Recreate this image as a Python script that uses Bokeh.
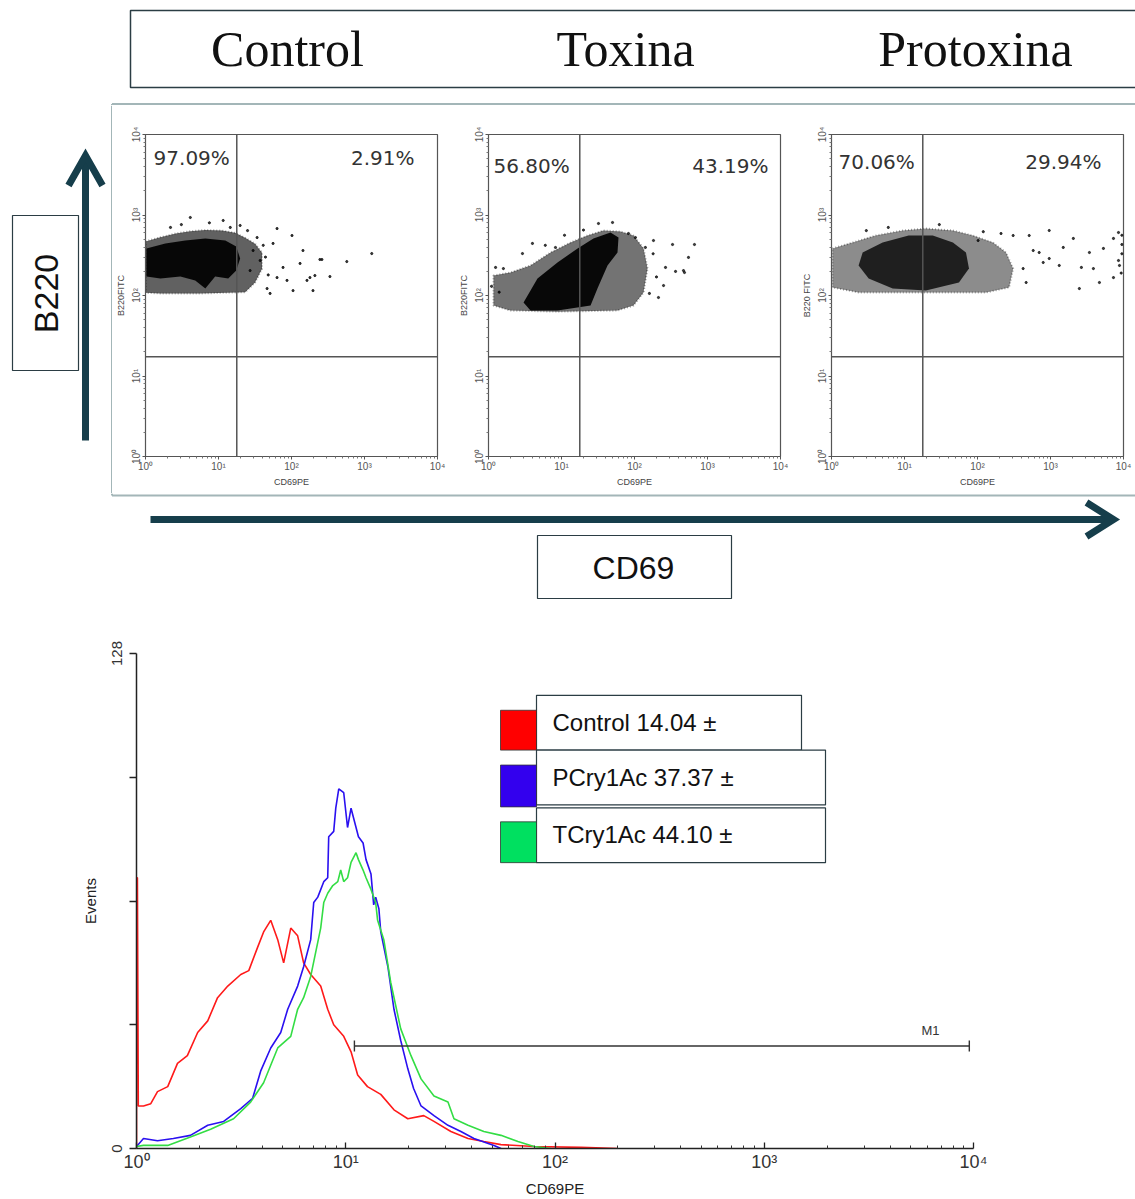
import math
from bokeh.plotting import figure
from bokeh.layouts import column, row
from bokeh.models import Range1d, FixedTicker, CustomJSTickFormatter, Span, Label
from bokeh.core.properties import value
from bokeh.embed import file_html
from bokeh.resources import INLINE

# ---------------- data ----------------
panel_titles = ["Control", "Toxina", "Protoxina"]
pct_left = ["97.09%", "56.80%", "70.06%"]
pct_right = ["2.91%", "43.19%", "29.94%"]
dot_y_labels = ["B220FITC", "B220FITC", "B220 FITC"]
dot_x_label = "CD69PE"
quad_x = 17.8     # CD69 quadrant threshold
quad_y = 17.4     # B220 quadrant threshold

# Control dot plot: dense core / halo outlines and sparse events
ctrl_halo_x = [1.0, 1.6, 2.6, 4.1, 6.6, 11.2, 16.9, 23.2, 31.7, 39.5, 39.5, 31.7, 23.2, 5.6, 1.6, 1.0]
ctrl_halo_y = [470, 530, 590, 630, 650, 640, 600, 520, 440, 340, 215, 145, 110, 106, 106, 108]
ctrl_core_x = [1.03, 1.87, 3.5, 6.6, 12.4, 17.5, 19.8, 17.5, 13.6, 9.0, 6.6, 4.8, 3.0, 1.6, 1.03]
ctrl_core_y = [384, 443, 482, 511, 482, 406, 288, 204, 163, 172, 122, 154, 172, 163, 172]
ctrl_dots_x = [33.8, 63.4, 101.6, 143.6, 245, 572, 1257, 179, 209, 163, 336, 86.8, 63.4, 46.3,
               105, 50.9, 76.6, 37.2, 55.9, 4.11, 11.6, 19.8, 197, 131, 29.8, 27.1, 261,
               2.2, 3.1, 7.5, 14.5, 25.0, 44.0, 48.0, 41.0]
ctrl_dots_y = [525, 679, 556, 362, 280, 264, 332, 167, 177, 154, 172, 154, 167, 122,
               115, 106, 223, 272, 443, 931, 855, 741, 115, 250, 362, 204, 280,
               700, 760, 800, 700, 640, 300, 180, 420]

# Toxina dot plot
tox_halo_x = [1.17, 2.0, 3.76, 7.07, 13.3, 22.7, 37.6, 64.3, 96.9, 133, 151, 133, 96.9, 58.5, 8.81, 2.0, 1.17]
tox_halo_y = [177, 193, 236, 342, 455, 556, 642, 624, 556, 384, 216, 109, 75, 65, 63, 65, 75]
tox_core_x = [3.02, 4.69, 8.81, 16.6, 27.4, 46.9, 60.4, 58.5, 42.7, 31.1, 25.0, 8.81, 3.76]
tox_core_y = [82, 163, 257, 384, 511, 606, 525, 342, 236, 122, 75, 65, 65]
tox_dots_x = [332, 663, 549, 365, 484, 213, 160, 266, 141, 103, 1.25, 2.92, 4.0, 8.27,
              32.1, 50, 82.7, 182, 469, 250, 1.6, 1.1, 1.4, 6.0, 11.0, 20.0, 180, 200]
tox_dots_y = [430, 430, 297, 199, 193, 94.4, 106, 223, 395, 525, 223, 332, 443, 395,
              784, 807, 589, 482, 204, 133, 216, 130, 110, 420, 560, 650, 330, 170]

# Protoxina dot plot
prot_halo_x = [1.03, 1.94, 4.03, 9.46, 19.6, 46.0, 86.7, 163, 246, 308, 271, 131, 19.6, 2.35, 1.03]
prot_halo_y = [384, 455, 556, 642, 679, 642, 556, 455, 342, 216, 126, 109, 109, 109, 126]
prot_core_x = [2.67, 5.02, 11.4, 24.4, 46.0, 69.5, 76.4, 55.7, 19.6, 6.89, 3.23, 2.35]
prot_core_y = [342, 455, 556, 556, 455, 342, 216, 145, 115, 122, 163, 236]
prot_dots_x = [308, 511, 961, 2056, 3413, 5310, 7290, 8540, 8810, 7290, 4680, 3870, 2485,
               1318, 795, 580, 422, 464, 1496, 961, 210, 102, 700, 2650, 8540,
               9500, 9500, 9500, 9300, 3.0, 6.0, 30.0, 120]
prot_dots_y = [556, 556, 642, 511, 342, 384, 511, 606, 236, 167, 145, 216, 122,
               236, 257, 362, 216, 145, 395, 288, 589, 482, 342, 223, 272,
               560, 430, 330, 190, 640, 700, 760, 620]

# Histogram overlay (CD69PE vs Events)
red_x = [1.0, 1.0, 1.01, 1.02, 1.08, 1.17, 1.26, 1.41, 1.57, 1.75, 1.96, 2.19, 2.44, 2.73, 3.15,
         3.44, 3.79, 4.05, 4.38, 4.73, 5.05, 5.46, 5.89, 6.29, 6.80, 7.59, 8.20, 8.76, 9.78,
         10.6, 11.4, 12.7, 14.7, 17.0, 19.8, 23.6, 26.4, 31.8, 38.4, 45.7, 55.2, 79.4, 133, 200]
red_y = [0, 70, 70, 11, 11, 11.6, 14.7, 16, 22, 24, 30, 33, 39, 42, 45,
         46, 52, 56, 59, 54, 48, 57, 55, 48, 45, 42, 36, 32, 29,
         25, 19, 16, 14, 10, 7.7, 8.5, 7, 4.4, 2.6, 1.8, 1.0, 0.5, 0.3, 0]
blue_x = [1.0, 1.08, 1.26, 1.50, 1.81, 2.19, 2.61, 3.15, 3.59, 3.92, 4.38, 4.89, 5.28, 5.89,
          6.29, 6.80, 7.03, 7.35, 7.85, 8.20, 8.29, 8.76, 8.96, 9.26, 9.78, 10.2, 10.6, 11.2,
          11.5, 12.1, 12.5, 13.2, 13.6, 13.9, 14.4, 14.7, 15.9, 17.0, 18.3, 19.8, 21.1, 22.9,
          26.4, 30.8, 35.5, 41.0, 51.1, 55.2]
blue_y = [0.5, 2.6, 2, 2.6, 3.4, 6, 7, 10.3, 13, 20, 26, 30, 36, 42,
          47, 54, 63.6, 65, 69, 70, 80.6, 82, 88, 93, 92, 83, 88, 83,
          80.6, 79, 74.7, 71, 63, 65, 62, 56, 47, 36, 28, 20.6, 15.5, 11,
          8.5, 6, 4.4, 2.6, 0.8, 0]
green_x = [1.0, 1.08, 1.41, 1.81, 2.26, 2.91, 3.51, 4.05, 4.73, 5.46, 5.89, 6.29, 6.80, 7.59,
           7.85, 8.20, 8.67, 9.16, 9.46, 9.78, 10.2, 10.6, 11.2, 11.5, 12.1, 12.5, 13.2, 13.9,
           14.2, 15.2, 16.4, 18.3, 20.5, 22.9, 26.4, 30.8, 32.9, 38.4, 45.7, 55.2, 66.5, 79.4, 95.7]
green_y = [0.5, 0.8, 0.8, 3, 5, 7.7, 12, 17, 26, 29, 36, 39, 44.5, 57,
           63.6, 66, 68, 69, 72, 69, 70, 74, 76.5, 74.7, 72, 70, 67, 63.6,
           59, 54, 43, 31, 24, 18, 13.6, 12, 7.7, 6, 4.4, 3.4, 1.8, 0.5, 0]
legend_labels = ["Control 14.04 \u00b1", "PCry1Ac 37.37 \u00b1", "TCry1Ac 44.10 \u00b1"]
series_colors = ["#ff1a1a", "#2a10f0", "#33dd44"]
legend_swatch_colors = ["#ff0000", "#3300ee", "#00e060"]
m1_range = [11.0, 9550.0]
m1_level = 26.5
hist_y_ticks = [0, 32, 64, 96, 128]
decades = [1, 10, 100, 1000, 10000]

# ---------------- styling helpers ----------------
ARROW = "#163e4b"
OUTER = "#a3b6b8"
BOXLINE = "#2b3d44"
W = 1135

sup_fmt = CustomJSTickFormatter(code="""
const s = ['\u2070','\u00b9','\u00b2','\u00b3','\u2074'];
const e = Math.round(Math.log10(tick));
return '10' + s[e];
""")
minor = [m * d for d in decades[:-1] for m in range(2, 10)]


def deco(w, h):
    f = figure(width=w, height=h, x_range=Range1d(0, w), y_range=Range1d(h, 0),
               x_axis_location=None, y_axis_location=None, min_border=0,
               output_backend="svg", toolbar_location=None)
    f.grid.visible = False
    f.outline_line_color = None
    f.background_fill_color = "white"
    f.border_fill_color = "white"
    return f


# ---------------- header ----------------
hdr = deco(W, 105)
hdr.quad(left=130, right=1150, top=10, bottom=87, fill_color=None, line_color=BOXLINE, line_width=1.5)
hdr.text(x=[287, 625, 975], y=[48, 48, 48], text=panel_titles, text_align="center",
         text_baseline="middle", text_font=value("Liberation Serif"), text_font_size="50px",
         text_color="#111111")
hdr.line([111.5, 1140], [103.5, 103.5], line_color=OUTER, line_width=2)
hdr.line([111.5, 111.5], [103.5, 106], line_color=OUTER, line_width=2)

# ---------------- left decoration (B220) ----------------
left = deco(112, 388)
left.quad(left=12, right=78, top=110, bottom=265, fill_color=None, line_color=BOXLINE, line_width=1.2)
left.text(x=[45], y=[188], text=["B220"], angle=math.pi / 2, text_align="center",
          text_baseline="middle", text_font=value("Liberation Sans"), text_font_size="34px",
          text_color="#111111")
left.line([85, 85], [335, 54], line_color=ARROW, line_width=7)
left.line([68, 85, 102], [80, 50, 80], line_color=ARROW, line_width=7, line_join="miter")
left.line([111.5, 111.5], [0, 388], line_color=OUTER, line_width=2)

# ---------------- dot plots ----------------
clouds = [
    (ctrl_halo_x, ctrl_halo_y, ctrl_core_x, ctrl_core_y, ctrl_dots_x, ctrl_dots_y),
    (tox_halo_x, tox_halo_y, tox_core_x, tox_core_y, tox_dots_x, tox_dots_y),
    (prot_halo_x, prot_halo_y, prot_core_x, prot_core_y, prot_dots_x, prot_dots_y),
]
# layout: (width, border right, pct label y, left label x, right label x, halo alpha, core alpha)
dot_layout = [(343, 18, 5040, 1.29, 4850, 0.62, 0.92),
              (343, 18, 4120, 1.17, 6850, 0.55, 0.93),
              (337, 12, 4490, 1.25, 4990, 0.45, 0.78)]

dots = []
for i in range(3):
    w, br, ly, lx, rx, ha, ca = dot_layout[i]
    hx_, hy_, cx_, cy_, dx_, dy_ = clouds[i]
    p = figure(width=w, height=388, x_axis_type="log", y_axis_type="log",
               x_range=Range1d(1, 1e4), y_range=Range1d(1, 1e4),
               min_border_left=33, min_border_right=br, min_border_top=29, min_border_bottom=37,
               output_backend="svg", toolbar_location=None)
    p.grid.visible = False
    p.outline_line_color = "#555555"
    p.outline_line_width = 1.2
    p.patch(hx_, hy_, fill_color="black", fill_alpha=ha, line_color="black", line_alpha=0.35,
            line_width=2, line_dash="1 2")
    p.patch(cx_, cy_, fill_color="black", fill_alpha=ca, line_color=None)
    p.scatter(dx_, dy_, size=2.2, color="black", alpha=0.75)
    p.add_layout(Span(location=quad_x, dimension="height", line_color="#555555", line_width=1.5))
    p.add_layout(Span(location=quad_y, dimension="width", line_color="#555555", line_width=1.5))
    p.add_layout(Label(x=lx, y=ly, text=pct_left[i], text_font="DejaVu Sans", text_font_size="20px",
                       text_color="#333333", text_baseline="middle", text_align="left"))
    p.add_layout(Label(x=rx, y=ly, text=pct_right[i], text_font="DejaVu Sans", text_font_size="20px",
                       text_color="#333333", text_baseline="middle", text_align="right"))
    for ax in (p.xaxis[0], p.yaxis[0]):
        ax.ticker = FixedTicker(ticks=decades, minor_ticks=minor)
        ax.formatter = sup_fmt
        ax.axis_line_color = "#555555"
        ax.major_tick_line_color = "#555555"
        ax.minor_tick_line_color = "#777777"
        ax.major_tick_out = 3
        ax.major_tick_in = 0
        ax.minor_tick_out = 2
        ax.minor_tick_in = 0
        ax.major_label_text_font_size = "10px"
        ax.major_label_text_color = "#555555"
        ax.major_label_text_font = "Liberation Sans"
        ax.major_label_standoff = 1
        ax.axis_label_text_font_size = "9px"
        ax.axis_label_text_font_style = "normal"
        ax.axis_label_text_color = "#444444"
        ax.axis_label_text_font = "Liberation Sans"
        ax.axis_label_standoff = 2
    p.xaxis.axis_label = dot_x_label
    p.yaxis.axis_label = dot_y_labels[i]
    p.yaxis.major_label_orientation = "vertical"
    dots.append(p)

# ---------------- bottom decoration (CD69) ----------------
mid = deco(W, 117)
mid.line([111.5, 1140], [2, 2], line_color=OUTER, line_width=2)
mid.line([111.5, 111.5], [0, 2], line_color=OUTER, line_width=2)
mid.line([150, 1108], [26, 26], line_color=ARROW, line_width=7)
mid.line([1086, 1113, 1086], [9, 26, 43], line_color=ARROW, line_width=7, line_join="miter")
mid.quad(left=537, right=731, top=42, bottom=105, fill_color=None, line_color=BOXLINE, line_width=1.2)
mid.text(x=[633], y=[74], text=["CD69"], text_align="center", text_baseline="middle",
         text_font=value("Liberation Sans"), text_font_size="32px", text_color="#111111")

# ---------------- histogram ----------------
FL, FR, FT, FB = 136, 973, 653, 1150   # page-pixel frame edges


def hx(px):
    return 10 ** ((px - FL) / ((FR - FL) / 4.0))


def hy(py):
    return (FB - py) * 128.0 / (FB - FT)


h = figure(width=W, height=589, x_axis_type="log", x_range=Range1d(1, 1e4), y_range=Range1d(0, 128),
           min_border_left=FL, min_border_right=W - FR, min_border_top=FT - 610, min_border_bottom=1199 - FB,
           output_backend="svg", toolbar_location=None)
h.grid.visible = False
h.outline_line_color = None
h.line(red_x, red_y, line_color=series_colors[0], line_width=1.6)
h.line(blue_x, blue_y, line_color=series_colors[1], line_width=1.6)
h.line(green_x, green_y, line_color=series_colors[2], line_width=1.6)

# M1 gate marker
h.line(m1_range, [m1_level, m1_level], line_color="#333333", line_width=1.4)
h.segment(x0=m1_range, y0=[m1_level - 1.4] * 2, x1=m1_range, y1=[m1_level + 1.4] * 2,
          line_color="#333333", line_width=1.4)
h.text(x=[hx(930)], y=[m1_level + 2.2], text=["M1"], text_align="center", text_baseline="bottom",
       text_font=value("Liberation Sans"), text_font_size="13px", text_color="#333333")

# legend
sw_top = [710, 765, 822]
sw_bot = [750, 807, 863]
box_top = [695, 750, 808]
box_bot = [750, 805, 863]
box_right = [801, 825, 825]
h.quad(left=[hx(536)] * 3, right=[hx(r) for r in box_right], top=[hy(t) for t in box_top],
       bottom=[hy(b) for b in box_bot], fill_color="white", line_color=BOXLINE, line_width=1.2)
h.quad(left=[hx(500)] * 3, right=[hx(536)] * 3, top=[hy(t) for t in sw_top],
       bottom=[hy(b) for b in sw_bot], fill_color=legend_swatch_colors, line_color="#333333",
       line_width=0.8)
h.text(x=[hx(552)] * 3, y=[hy(722), hy(777), hy(835)], text=legend_labels, text_align="left",
       text_baseline="middle", text_font=value("Liberation Sans"), text_font_size="24px",
       text_color="#111111")

xa = h.xaxis[0]
xa.ticker = FixedTicker(ticks=decades, minor_ticks=minor)
xa.formatter = sup_fmt
xa.axis_label = "CD69PE"
xa.major_tick_in = 6
xa.major_tick_out = 0
xa.minor_tick_in = 3
xa.minor_tick_out = 0
xa.major_label_text_font_size = "18px"
xa.major_label_standoff = 3
ya = h.yaxis[0]
ya.ticker = FixedTicker(ticks=hist_y_ticks)
ya.formatter = CustomJSTickFormatter(code="return (tick == 0 || tick == 128) ? String(tick) : '';")
ya.axis_label = "Events"
ya.major_tick_out = 7
ya.major_tick_in = 0
ya.minor_tick_out = 0
ya.minor_tick_in = 0
ya.major_label_orientation = "vertical"
ya.major_label_text_font_size = "15px"
ya.major_label_standoff = 8
ya.axis_label_standoff = 10
for ax in (xa, ya):
    ax.axis_line_color = "#222222"
    ax.axis_line_width = 1.5
    ax.major_tick_line_color = "#222222"
    ax.major_tick_line_width = 1.3
    ax.minor_tick_line_color = "#333333"
    ax.major_label_text_color = "#333333"
    ax.major_label_text_font = "Liberation Sans"
    ax.axis_label_text_font = "Liberation Sans"
    ax.axis_label_text_font_size = "15px"
    ax.axis_label_text_font_style = "normal"
    ax.axis_label_text_color = "#222222"

layout = column(row(hdr), row(column(left), row(*dots)), row(mid), row(h))
open("out.html", "w", encoding="utf-8").write(file_html(layout, INLINE))
